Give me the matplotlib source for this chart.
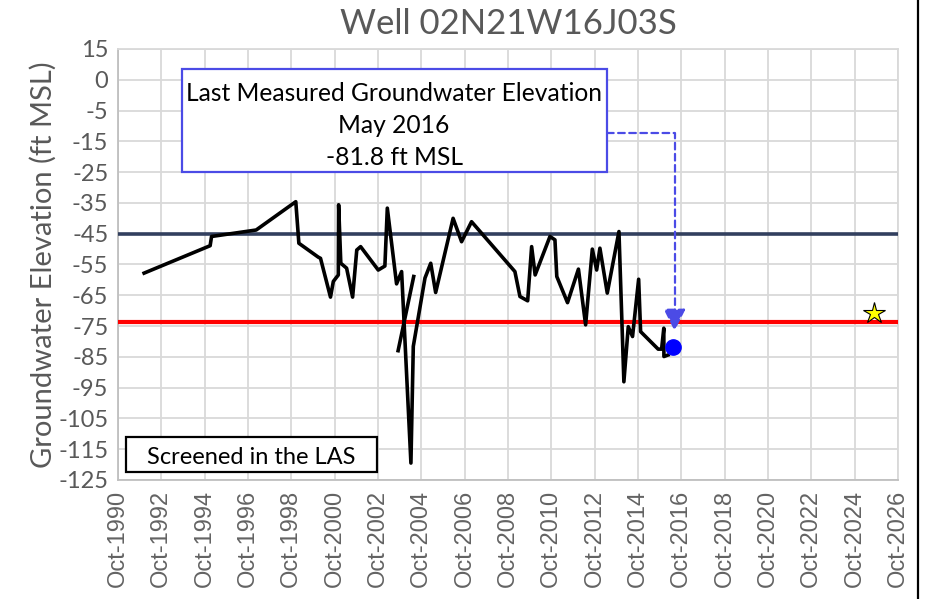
#!/usr/bin/env python3
"""Hidrograma del pozo 02N21W16J03S con el ultimo nivel medido."""
import matplotlib
matplotlib.use("Agg")
import matplotlib.pyplot as plt
import matplotlib.dates as mdates
from matplotlib.patches import Rectangle
from matplotlib.lines import Line2D
import pandas as pd

TITLE = "Well 02N21W16J03S"
Y_LABEL = "Groundwater Elevation (ft MSL)"
BOX_LINES = ["Last Measured Groundwater Elevation", "May 2016", "-81.8 ft MSL"]
SCREEN_TEXT = "Screened in the LAS"

# serie principal (fecha, elevacion en ft MSL)
hydro_dates = [
    "1991-12-15", "1995-01-01", "1995-01-25", "1997-02-15", "1998-12-15",
    "1999-02-05", "1999-12-28", "2000-02-05", "2000-07-22", "2000-09-08",
    "2000-12-01", "2000-12-06", "2001-01-12", "2001-04-20", "2001-07-30",
    "2001-10-08", "2001-12-12", "2002-10-05", "2003-01-25", "2003-03-07",
    "2003-08-10", "2003-11-03", "2004-04-08", "2004-05-18", "2004-12-01",
    "2005-03-08", "2005-05-30", "2006-03-20", "2006-08-10", "2007-01-25",
    "2009-01-25", "2009-04-20", "2009-08-28", "2009-11-03", "2010-01-01",
    "2010-09-08", "2010-12-01", "2011-01-01", "2011-07-01", "2012-01-01",
    "2012-05-01", "2012-08-22", "2012-11-03", "2012-12-28", "2013-05-01",
    "2013-11-14", "2014-02-05", "2014-04-20", "2014-07-01", "2014-10-12",
    "2014-11-14", "2015-09-06", "2015-11-03", "2015-12-10", "2015-12-12",
    "2016-02-20",
]
hydro_elev = [
    -57.8, -48.9, -45.9, -43.8, -34.6,
    -48.1, -52.6, -53.0, -65.6, -60.5,
    -58.4, -35.6, -54.6, -56.2, -65.6,
    -50.3, -49.2, -56.8, -55.5, -36.7,
    -61.3, -57.3, -119.5, -81.6, -59.4,
    -54.6, -64.1, -40.0, -47.6, -41.1,
    -57.3, -65.4, -66.8, -49.2, -58.4,
    -45.9, -47.0, -58.9, -67.4, -56.5,
    -74.6, -50.0, -56.8, -49.7, -64.3,
    -44.3, -93.1, -75.2, -78.4, -59.8,
    -76.8, -82.5, -82.5, -75.7, -84.9,
    -84.4,
]
# tramo suelto entre 2003 y 2004
seg_dates = ["2003-09-05", "2004-05-25"]
seg_elev = [-83.0, -58.9]

last_date = "2016-05-15"
last_elev = -81.8
star_date = "2025-08-15"
star_elev = -70.8

upper_level = -45.0   # linea azul oscuro
lower_level = -73.7   # linea roja

y_ticks = [15, 5, -5, -15, -25, -35, -45, -55, -65, -75, -85, -95, -105, -115, -125]
y_tick_labels = ["15", "0", "-5", "-15", "-25", "-35", "-45", "-55", "-65", "-75",
                 "-85", "-95", "-105", "-115", "-125"]
x_tick_years = list(range(1990, 2027, 2))

CALIBRI_LIKE = ["Lato", "DejaVu Sans"]
GRAY_TEXT = "#595959"
ARROW_BLUE = "#4b4be6"


def main():
    fig = plt.figure(figsize=(9.27, 5.99), dpi=100)
    ax = fig.add_axes([0.1273, 0.1987, 0.8414, 0.7195])

    ax.plot(pd.to_datetime(hydro_dates), hydro_elev, color="black", lw=2.6, zorder=4)
    ax.plot(pd.to_datetime(seg_dates), seg_elev, color="black", lw=2.6, zorder=4)

    ax.axhline(upper_level, color="#323f5e", lw=2.6, zorder=3)
    ax.axhline(lower_level, color="#ff0000", lw=3.0, zorder=3)

    ax.plot(pd.to_datetime([last_date]), [last_elev], "o", color="#0000ff",
            markersize=11, zorder=6)
    ax.plot(pd.to_datetime([star_date]), [star_elev], marker="*", color="#ffff00",
            markeredgecolor="black", markeredgewidth=0.8, markersize=16,
            linestyle="", zorder=6)

    # flecha punteada desde el recuadro hasta el ultimo nivel
    tip = (mdates.date2num(pd.Timestamp(last_date)) + 25, last_elev + 5.2)
    ax.annotate(
        "", xy=tip, xycoords="data", xytext=(0.627, 0.805), textcoords="axes fraction",
        arrowprops=dict(
            arrowstyle="-|>,head_length=0.5,head_width=0.25",
            connectionstyle="angle,angleA=0,angleB=90,rad=0",
            color=ARROW_BLUE, lw=1.6, linestyle=(0, (3, 2)),
            shrinkA=0, shrinkB=0, mutation_scale=27,
        ),
        zorder=5,
    )

    ax.add_patch(Rectangle((0.0817, 0.715), 0.5453, 0.238, transform=ax.transAxes,
                           facecolor="white", edgecolor=ARROW_BLUE, lw=1.6,
                           clip_on=False, zorder=7))
    for i, line in enumerate(BOX_LINES):
        ax.text(0.354, 0.896 - i * 0.0735, line, transform=ax.transAxes,
                ha="center", va="center", fontsize=17.7, family=CALIBRI_LIKE,
                color="black", zorder=8)

    ax.add_patch(Rectangle((0.0103, 0.019), 0.3221, 0.081, transform=ax.transAxes,
                           facecolor="white", edgecolor="black", lw=1.6,
                           clip_on=False, zorder=7))
    ax.text(0.171, 0.052, SCREEN_TEXT, transform=ax.transAxes, ha="center",
            va="center", fontsize=17, family=CALIBRI_LIKE, color="black", zorder=8)

    ax.set_xlim(pd.Timestamp("1990-10-01"), pd.Timestamp("2026-10-01"))
    ax.set_ylim(-125, 15)
    ticks = [pd.Timestamp(f"{y}-10-01") for y in x_tick_years]
    ax.set_xticks(ticks)
    ax.set_xticklabels([f"Oct-{y}" for y in x_tick_years], rotation=90,
                       fontsize=17, family="Liberation Sans", color="#636363")
    ax.set_yticks(y_ticks)
    ax.set_yticklabels(y_tick_labels, fontsize=17, family=CALIBRI_LIKE, color=GRAY_TEXT)
    ax.tick_params(length=0, pad=7)

    ax.grid(True, color="#d9d9d9", lw=1.3)
    ax.set_axisbelow(True)
    for side, spine in ax.spines.items():
        spine.set_color("#bfbfbf" if side in ("left", "bottom") else "#d9d9d9")
        spine.set_linewidth(1.3)

    ax.set_title(TITLE, fontsize=25, family=CALIBRI_LIKE, color=GRAY_TEXT, pad=11)
    ax.set_ylabel(Y_LABEL, fontsize=21, family=CALIBRI_LIKE, color=GRAY_TEXT, labelpad=1)

    # borde negro a la derecha del grafico
    fig.add_artist(Line2D([0.990, 0.990], [0, 1], transform=fig.transFigure,
                          color="black", lw=1.6))

    fig.savefig("out.png", dpi=100)
    plt.close(fig)


if __name__ == "__main__":
    main()
